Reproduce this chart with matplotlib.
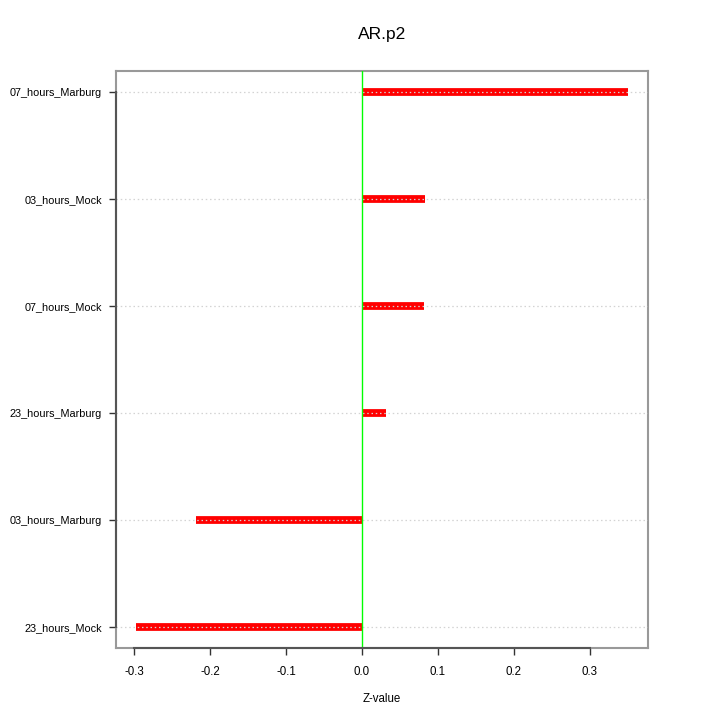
import matplotlib
matplotlib.use('Agg')
import matplotlib.pyplot as plt
import matplotlib.transforms as mtransforms

# bottom to top
samples = ["23_hours_Mock", "03_hours_Marburg", "23_hours_Marburg",
           "07_hours_Mock", "03_hours_Mock", "07_hours_Marburg"]
zvalues = [-0.298, -0.219, 0.032, 0.082, 0.083, 0.351]
xticks = [-0.3, -0.2, -0.1, 0.0, 0.1, 0.2, 0.3]

plt.rcParams['font.family'] = ['Liberation Sans', 'DejaVu Sans']

fig = plt.figure(figsize=(7.2, 7.2), dpi=100)
fig.patch.set_facecolor('white')
ax = fig.add_axes([116/720, 72/720, 532/720, 577/720])

ypos = list(range(1, len(samples) + 1))

# thick red segments from zero
for y, v in zip(ypos, zvalues):
    ax.plot([0, v], [y, y], color='#ff0000', lw=5.6, solid_capstyle='butt', zorder=2)

# dotted grid lines over the bars
for y in ypos:
    ax.axhline(y, color='#d3d3d3', lw=0.9, ls=(0, (1.2, 2.2)), zorder=3)

ax.axvline(0, color='#00ff00', lw=1.0, zorder=4)

span = max(zvalues) - min(zvalues)
ax.set_xlim(min(zvalues) - 0.04 * span, max(zvalues) + 0.04 * span)
ax.set_ylim(1 - 0.04 * 5, 6 + 0.04 * 5)

ax.set_xticks(xticks)
ax.set_xticklabels([f"{t:.1f}" for t in xticks], fontsize=8.3)
ax.set_yticks(ypos)
ax.set_yticklabels(samples, fontsize=7.8)
ax.tick_params(direction='out', length=5, width=1, color='#333333')
ax.tick_params(axis='x', pad=8)
ax.tick_params(axis='y', pad=5)

for s in ax.spines.values():
    s.set_color('#999999')
    s.set_linewidth(1.5)

# R-style axis lines from first to last tick
tb = mtransforms.blended_transform_factory(ax.transData, ax.transAxes)
ax.plot([xticks[0], xticks[-1]], [0, 0], transform=tb, color='#555555', lw=1.5,
        clip_on=False, zorder=5)
tl = mtransforms.blended_transform_factory(ax.transAxes, ax.transData)
ax.plot([0, 0], [ypos[0], ypos[-1]], transform=tl, color='#555555', lw=1.5,
        clip_on=False, zorder=5)

ax.set_xlabel("Z-value", fontsize=8.3, labelpad=11)
fig.text(382/720, 1 - 35/720, "AR.p2", ha='center', va='center', fontsize=12.5)

plt.savefig('out.png', dpi=100, facecolor='white')
